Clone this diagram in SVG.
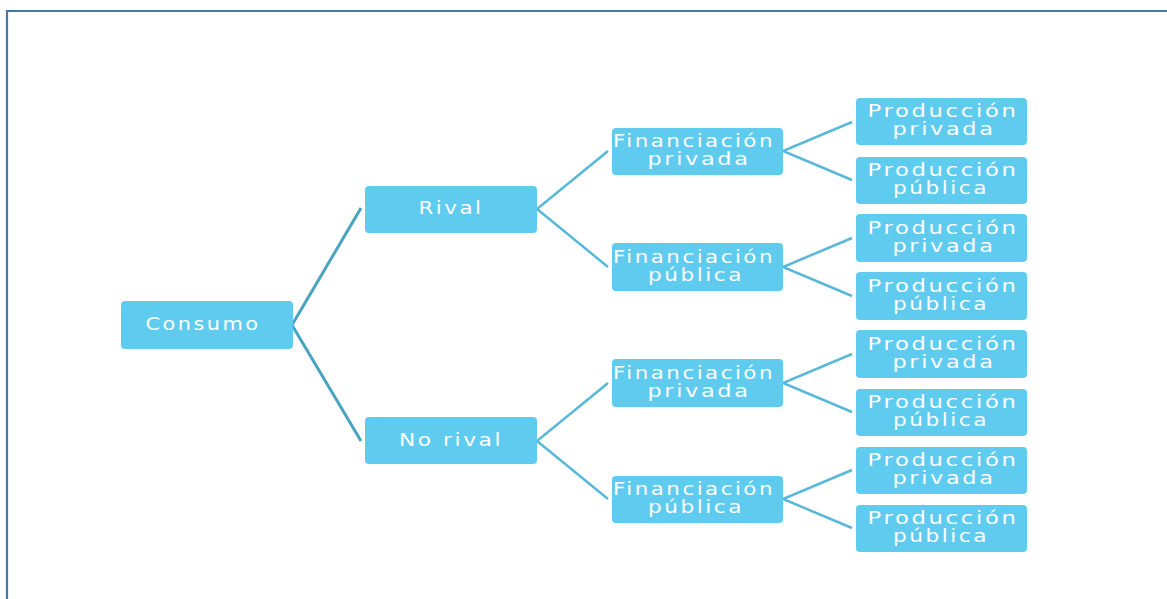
<svg xmlns="http://www.w3.org/2000/svg" width="1167" height="599" viewBox="0 0 1167 599">
<style>
.box{fill:#5fcbef;}
.t{font-family:"DejaVu Sans",Verdana,sans-serif;font-size:17px;letter-spacing:2px;fill:#ffffff;text-anchor:middle;}
.c1{stroke:#49a4c2;stroke-width:3;fill:none;}
.c2{stroke:#58b8d9;stroke-width:2.5;fill:none;}
</style>
<rect width="1167" height="599" fill="#ffffff"/>
<path d="M7,599 V11 H1167" fill="none" stroke="#4677a0" stroke-width="2.2"/>
<g id="connectors">
<path class="c1" d="M361,208 L292,325 L361,441"/>
<path class="c2" d="M608,151 L537,209 L608,267"/>
<path class="c2" d="M608,383 L537,441 L608,499"/>
<path class="c2" d="M852,122 L783,151 L852,180"/>
<path class="c2" d="M852,238 L783,267 L852,296"/>
<path class="c2" d="M852,354 L783,383 L852,412"/>
<path class="c2" d="M852,470 L783,499 L852,528"/>
</g>
<g id="consumo"><rect class="box" x="121" y="301" width="172" height="48" rx="4"/><text class="t" x="203" y="330" textLength="115" lengthAdjust="spacingAndGlyphs">Consumo</text></g>
<g id="rival"><rect class="box" x="365" y="186" width="172" height="47" rx="4"/><text class="t" x="451" y="214" textLength="65" lengthAdjust="spacingAndGlyphs">Rival</text></g>
<g id="norival"><rect class="box" x="365" y="417" width="172" height="47" rx="4"/><text class="t" x="451" y="446" textLength="104" lengthAdjust="spacingAndGlyphs">No rival</text></g>

<g id="fin1"><rect class="box" x="612" y="128" width="171" height="47" rx="4"/><text class="t" x="694" y="147" textLength="162" lengthAdjust="spacingAndGlyphs">Financiación</text><text class="t" x="699" y="165" textLength="103" lengthAdjust="spacingAndGlyphs">privada</text></g>
<g id="fin2"><rect class="box" x="612" y="243" width="171" height="48" rx="4"/><text class="t" x="694" y="263" textLength="162" lengthAdjust="spacingAndGlyphs">Financiación</text><text class="t" x="696" y="281" textLength="96" lengthAdjust="spacingAndGlyphs">pública</text></g>
<g id="fin3"><rect class="box" x="612" y="359" width="171" height="48" rx="4"/><text class="t" x="694" y="379" textLength="162" lengthAdjust="spacingAndGlyphs">Financiación</text><text class="t" x="699" y="397" textLength="103" lengthAdjust="spacingAndGlyphs">privada</text></g>
<g id="fin4"><rect class="box" x="612" y="476" width="171" height="47" rx="4"/><text class="t" x="694" y="495" textLength="162" lengthAdjust="spacingAndGlyphs">Financiación</text><text class="t" x="696" y="513" textLength="96" lengthAdjust="spacingAndGlyphs">pública</text></g>

<g id="p1"><rect class="box" x="856" y="98" width="171" height="47" rx="4"/><text class="t" x="943" y="117" textLength="151" lengthAdjust="spacingAndGlyphs">Producción</text><text class="t" x="944" y="135" textLength="103" lengthAdjust="spacingAndGlyphs">privada</text></g>
<g id="p2"><rect class="box" x="856" y="157" width="171" height="47" rx="4"/><text class="t" x="943" y="176" textLength="151" lengthAdjust="spacingAndGlyphs">Producción</text><text class="t" x="941" y="194" textLength="96" lengthAdjust="spacingAndGlyphs">pública</text></g>
<g id="p3"><rect class="box" x="856" y="214" width="171" height="48" rx="4"/><text class="t" x="943" y="234" textLength="151" lengthAdjust="spacingAndGlyphs">Producción</text><text class="t" x="944" y="252" textLength="103" lengthAdjust="spacingAndGlyphs">privada</text></g>
<g id="p4"><rect class="box" x="856" y="272" width="171" height="48" rx="4"/><text class="t" x="943" y="292" textLength="151" lengthAdjust="spacingAndGlyphs">Producción</text><text class="t" x="941" y="310" textLength="96" lengthAdjust="spacingAndGlyphs">pública</text></g>
<g id="p5"><rect class="box" x="856" y="330" width="171" height="48" rx="4"/><text class="t" x="943" y="350" textLength="151" lengthAdjust="spacingAndGlyphs">Producción</text><text class="t" x="944" y="368" textLength="103" lengthAdjust="spacingAndGlyphs">privada</text></g>
<g id="p6"><rect class="box" x="856" y="389" width="171" height="47" rx="4"/><text class="t" x="943" y="408" textLength="151" lengthAdjust="spacingAndGlyphs">Producción</text><text class="t" x="941" y="426" textLength="96" lengthAdjust="spacingAndGlyphs">pública</text></g>
<g id="p7"><rect class="box" x="856" y="447" width="171" height="47" rx="4"/><text class="t" x="943" y="466" textLength="151" lengthAdjust="spacingAndGlyphs">Producción</text><text class="t" x="944" y="484" textLength="103" lengthAdjust="spacingAndGlyphs">privada</text></g>
<g id="p8"><rect class="box" x="856" y="505" width="171" height="47" rx="4"/><text class="t" x="943" y="524" textLength="151" lengthAdjust="spacingAndGlyphs">Producción</text><text class="t" x="941" y="542" textLength="96" lengthAdjust="spacingAndGlyphs">pública</text></g>
</svg>
